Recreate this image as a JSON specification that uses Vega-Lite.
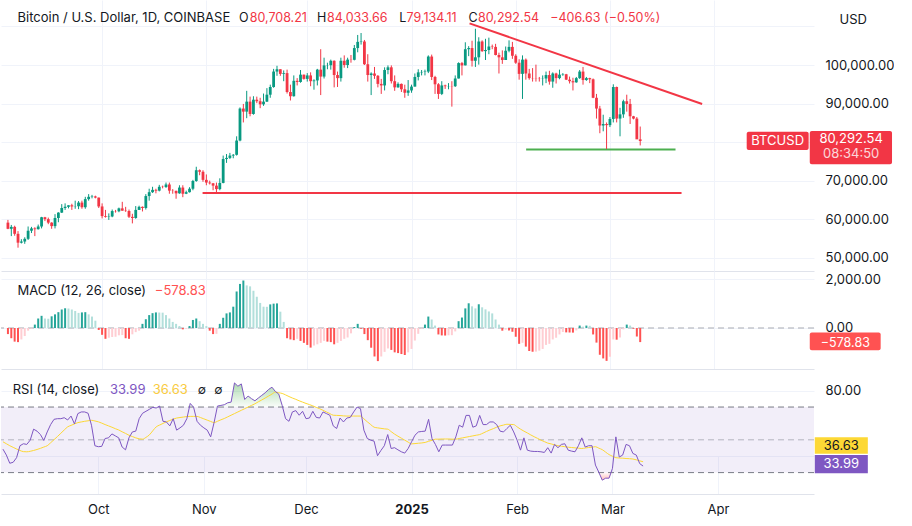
{
"$schema": "https://vega.github.io/schema/vega-lite/v6.json",
"padding": 0,
"background": "#ffffff",
"spacing": 0,
"bounds": "flush",
"config": {"font": "Inter", "view": {"stroke": null}, "axis": {"zindex": 0, "labelFont": "Inter", "titleFont": "Inter"}, "text": {"font": "Inter"}},
"datasets": {
"btc": [
{"d":"2024-09-03","o":59100,"h":59800,"l":57400,"c":57500,"m":-250,"r":44.3,"s":48.8},
{"d":"2024-09-04","o":57500,"h":58500,"l":55600,"c":58000,"m":-420,"r":40.7,"s":47.6},
{"d":"2024-09-05","o":58000,"h":58300,"l":55700,"c":56200,"m":-560,"r":35.7,"s":46.4},
{"d":"2024-09-06","o":56200,"h":56900,"l":52600,"c":53900,"m":-580,"r":36.3,"s":45.4},
{"d":"2024-09-07","o":53900,"h":54800,"l":53700,"c":54200,"m":-470,"r":39.1,"s":44.4},
{"d":"2024-09-08","o":54200,"h":55300,"l":53600,"c":54900,"m":-330,"r":46.4,"s":43.5},
{"d":"2024-09-09","o":54900,"h":58100,"l":54600,"c":57000,"m":-110,"r":47.6,"s":42.8},
{"d":"2024-09-10","o":57000,"h":58000,"l":56400,"c":57600,"m":-30,"r":47.2,"s":42.7},
{"d":"2024-09-11","o":57600,"h":57900,"l":55600,"c":57400,"m":140,"r":49.8,"s":43.0},
{"d":"2024-09-12","o":57400,"h":58600,"l":57300,"c":58100,"m":390,"r":56.5,"s":43.5},
{"d":"2024-09-13","o":58100,"h":60600,"l":57600,"c":60500,"m":500,"r":55.3,"s":44.1},
{"d":"2024-09-14","o":60500,"h":60600,"l":59500,"c":60000,"m":390,"r":53.2,"s":44.8},
{"d":"2024-09-15","o":60000,"h":60400,"l":58700,"c":59100,"m":380,"r":49.6,"s":45.6},
{"d":"2024-09-16","o":59100,"h":59200,"l":57500,"c":58200,"m":480,"r":54.8,"s":46.4},
{"d":"2024-09-17","o":58200,"h":61300,"l":57600,"c":60300,"m":560,"r":59.3,"s":48.2},
{"d":"2024-09-18","o":60300,"h":61800,"l":59200,"c":61700,"m":650,"r":62.5,"s":50.1},
{"d":"2024-09-19","o":61700,"h":63900,"l":61600,"c":62900,"m":760,"r":62.9,"s":52.0},
{"d":"2024-09-20","o":62900,"h":64100,"l":62400,"c":63200,"m":810,"r":62.9,"s":54.0},
{"d":"2024-09-21","o":63200,"h":63600,"l":62800,"c":63600,"m":800,"r":63.5,"s":56.0},
{"d":"2024-09-22","o":63600,"h":64000,"l":62400,"c":63300,"m":760,"r":62.1,"s":57.9},
{"d":"2024-09-23","o":63300,"h":64800,"l":62700,"c":63350,"m":700,"r":64.5,"s":58.8},
{"d":"2024-09-24","o":63350,"h":64700,"l":62600,"c":64300,"m":620,"r":59.7,"s":59.7},
{"d":"2024-09-25","o":64300,"h":64800,"l":62700,"c":63100,"m":640,"r":66.0,"s":60.5},
{"d":"2024-09-26","o":63100,"h":65800,"l":62700,"c":65200,"m":650,"r":67.0,"s":60.9},
{"d":"2024-09-27","o":65200,"h":66500,"l":64800,"c":65800,"m":560,"r":67.0,"s":61.3},
{"d":"2024-09-28","o":65800,"h":66300,"l":65400,"c":65900,"m":470,"r":66.2,"s":61.6},
{"d":"2024-09-29","o":65900,"h":66100,"l":65400,"c":65600,"m":300,"r":58.9,"s":61.9},
{"d":"2024-09-30","o":65600,"h":65600,"l":62900,"c":63300,"m":-80,"r":46.4,"s":61.5},
{"d":"2024-10-01","o":63300,"h":64100,"l":60200,"c":60800,"m":-280,"r":45.8,"s":61.0},
{"d":"2024-10-02","o":60800,"h":62400,"l":60400,"c":60600,"m":-445,"r":46.0,"s":60.2},
{"d":"2024-10-03","o":60600,"h":61500,"l":59800,"c":60700,"m":-400,"r":50.8,"s":59.3},
{"d":"2024-10-04","o":60700,"h":62500,"l":60500,"c":62100,"m":-370,"r":51.2,"s":58.5},
{"d":"2024-10-05","o":62100,"h":62400,"l":61700,"c":62050,"m":-360,"r":53.6,"s":57.7},
{"d":"2024-10-06","o":62050,"h":63000,"l":61800,"c":62800,"m":-300,"r":52.4,"s":56.8},
{"d":"2024-10-07","o":62800,"h":64500,"l":62200,"c":62200,"m":-290,"r":51.2,"s":56.0},
{"d":"2024-10-08","o":62200,"h":63200,"l":61900,"c":62100,"m":-420,"r":45.6,"s":54.9},
{"d":"2024-10-09","o":62100,"h":62500,"l":60300,"c":60600,"m":-445,"r":43.9,"s":53.9},
{"d":"2024-10-10","o":60600,"h":61400,"l":58900,"c":60300,"m":-260,"r":51.2,"s":52.8},
{"d":"2024-10-11","o":60300,"h":63400,"l":60100,"c":62400,"m":-170,"r":54.8,"s":52.0},
{"d":"2024-10-12","o":62400,"h":63500,"l":62400,"c":63200,"m":-110,"r":55.3,"s":51.2},
{"d":"2024-10-13","o":63200,"h":63300,"l":62000,"c":62900,"m":170,"r":62.9,"s":50.6},
{"d":"2024-10-14","o":62900,"h":66500,"l":62500,"c":66000,"m":360,"r":66.2,"s":50.4},
{"d":"2024-10-15","o":66000,"h":67900,"l":64800,"c":67000,"m":530,"r":67.4,"s":51.5},
{"d":"2024-10-16","o":67000,"h":68400,"l":66800,"c":67600,"m":610,"r":68.6,"s":53.0},
{"d":"2024-10-17","o":67600,"h":67900,"l":66700,"c":67400,"m":640,"r":69.8,"s":55.5},
{"d":"2024-10-18","o":67400,"h":68900,"l":67200,"c":68400,"m":635,"r":69.4,"s":57.9},
{"d":"2024-10-19","o":68400,"h":68700,"l":68000,"c":68350,"m":630,"r":70.6,"s":59.0},
{"d":"2024-10-20","o":68350,"h":69500,"l":68100,"c":69000,"m":530,"r":61.3,"s":60.0},
{"d":"2024-10-21","o":69000,"h":69500,"l":66600,"c":67400,"m":390,"r":60.9,"s":61.0},
{"d":"2024-10-22","o":67400,"h":67800,"l":66600,"c":67350,"m":250,"r":58.5,"s":61.8},
{"d":"2024-10-23","o":67350,"h":67400,"l":65300,"c":66700,"m":170,"r":62.9,"s":62.6},
{"d":"2024-10-24","o":66700,"h":68800,"l":66600,"c":68200,"m":80,"r":55.9,"s":63.3},
{"d":"2024-10-25","o":68200,"h":68800,"l":65700,"c":66600,"m":-55,"r":57.3,"s":63.6},
{"d":"2024-10-26","o":66600,"h":67400,"l":66500,"c":67000,"m":-30,"r":58.9,"s":63.9},
{"d":"2024-10-27","o":67000,"h":68300,"l":66900,"c":67900,"m":80,"r":62.9,"s":64.2},
{"d":"2024-10-28","o":67900,"h":70200,"l":67500,"c":69900,"m":330,"r":72.2,"s":64.3},
{"d":"2024-10-29","o":69900,"h":73600,"l":69700,"c":72700,"m":390,"r":69.8,"s":64.3},
{"d":"2024-10-30","o":72700,"h":72900,"l":71400,"c":72300,"m":280,"r":61.3,"s":64.3},
{"d":"2024-10-31","o":72300,"h":72700,"l":69700,"c":70200,"m":170,"r":58.9,"s":63.6},
{"d":"2024-11-01","o":70200,"h":71600,"l":68800,"c":69500,"m":80,"r":57.3,"s":62.8},
{"d":"2024-11-02","o":69500,"h":70000,"l":69000,"c":69300,"m":-110,"r":55.9,"s":62.0},
{"d":"2024-11-03","o":69300,"h":69400,"l":67500,"c":68700,"m":-250,"r":51.8,"s":61.2},
{"d":"2024-11-04","o":68700,"h":69500,"l":66800,"c":67800,"m":-240,"r":60.5,"s":60.5},
{"d":"2024-11-05","o":67800,"h":70600,"l":67500,"c":69400,"m":170,"r":70.6,"s":61.3},
{"d":"2024-11-06","o":69400,"h":76500,"l":69300,"c":75600,"m":420,"r":71.0,"s":62.2},
{"d":"2024-11-07","o":75600,"h":76900,"l":74600,"c":75900,"m":600,"r":71.4,"s":63.0},
{"d":"2024-11-08","o":75900,"h":77200,"l":75600,"c":76500,"m":640,"r":72.6,"s":64.0},
{"d":"2024-11-09","o":76500,"h":76900,"l":75800,"c":76700,"m":875,"r":73.0,"s":65.0},
{"d":"2024-11-10","o":76700,"h":81500,"l":76500,"c":80400,"m":1500,"r":84.7,"s":66.0},
{"d":"2024-11-11","o":80400,"h":89000,"l":80200,"c":88700,"m":1810,"r":82.7,"s":67.0},
{"d":"2024-11-12","o":88700,"h":89900,"l":85100,"c":87900,"m":1950,"r":84.1,"s":68.0},
{"d":"2024-11-13","o":87900,"h":93300,"l":86200,"c":90500,"m":1750,"r":74.6,"s":69.0},
{"d":"2024-11-14","o":90500,"h":91800,"l":86700,"c":87300,"m":1710,"r":76.7,"s":70.0},
{"d":"2024-11-15","o":87300,"h":91900,"l":87100,"c":91000,"m":1530,"r":75.1,"s":71.0},
{"d":"2024-11-16","o":91000,"h":91800,"l":90100,"c":90600,"m":1280,"r":73.8,"s":72.0},
{"d":"2024-11-17","o":90600,"h":91500,"l":88800,"c":89800,"m":1030,"r":75.5,"s":73.2},
{"d":"2024-11-18","o":89800,"h":92600,"l":89400,"c":90500,"m":875,"r":77.1,"s":74.3},
{"d":"2024-11-19","o":90500,"h":94000,"l":90400,"c":92300,"m":870,"r":78.7,"s":75.5},
{"d":"2024-11-20","o":92300,"h":94900,"l":91500,"c":94300,"m":970,"r":80.7,"s":76.7},
{"d":"2024-11-21","o":94300,"h":99000,"l":94100,"c":98300,"m":1000,"r":82.1,"s":77.9},
{"d":"2024-11-22","o":98300,"h":99800,"l":97200,"c":98900,"m":1010,"r":79.5,"s":79.1},
{"d":"2024-11-23","o":98900,"h":98900,"l":97200,"c":97700,"m":670,"r":77.9,"s":78.7},
{"d":"2024-11-24","o":97700,"h":98600,"l":95800,"c":97900,"m":250,"r":71.0,"s":78.3},
{"d":"2024-11-25","o":97900,"h":98800,"l":92600,"c":93000,"m":-420,"r":62.9,"s":77.4},
{"d":"2024-11-26","o":93000,"h":94900,"l":90800,"c":91900,"m":-470,"r":61.3,"s":76.4},
{"d":"2024-11-27","o":91900,"h":97300,"l":91800,"c":95900,"m":-500,"r":67.0,"s":75.5},
{"d":"2024-11-28","o":95900,"h":96600,"l":94700,"c":95600,"m":-445,"r":67.8,"s":74.7},
{"d":"2024-11-29","o":95600,"h":98700,"l":95400,"c":97500,"m":-530,"r":65.0,"s":73.8},
{"d":"2024-11-30","o":97500,"h":97500,"l":96200,"c":96400,"m":-610,"r":67.4,"s":73.0},
{"d":"2024-12-01","o":96400,"h":97900,"l":95700,"c":97300,"m":-695,"r":62.9,"s":72.2},
{"d":"2024-12-02","o":97300,"h":98100,"l":94500,"c":95800,"m":-805,"r":63.3,"s":71.5},
{"d":"2024-12-03","o":95800,"h":96300,"l":93600,"c":96000,"m":-720,"r":67.4,"s":70.7},
{"d":"2024-12-04","o":96000,"h":99000,"l":94700,"c":98800,"m":-670,"r":63.7,"s":69.8},
{"d":"2024-12-05","o":98800,"h":104100,"l":92200,"c":97000,"m":-610,"r":63.3,"s":69.0},
{"d":"2024-12-06","o":97000,"h":101900,"l":96500,"c":99900,"m":-530,"r":67.0,"s":68.0},
{"d":"2024-12-07","o":99900,"h":100600,"l":98900,"c":99950,"m":-560,"r":66.0,"s":67.0},
{"d":"2024-12-08","o":99950,"h":101400,"l":98800,"c":101100,"m":-580,"r":65.0,"s":66.0},
{"d":"2024-12-09","o":101100,"h":101200,"l":94200,"c":97400,"m":-670,"r":58.5,"s":65.0},
{"d":"2024-12-10","o":97400,"h":98300,"l":94300,"c":96600,"m":-610,"r":56.9,"s":64.9},
{"d":"2024-12-11","o":96600,"h":101900,"l":95700,"c":101100,"m":-530,"r":63.3,"s":64.8},
{"d":"2024-12-12","o":101100,"h":102500,"l":99300,"c":100000,"m":-445,"r":60.9,"s":64.6},
{"d":"2024-12-13","o":100000,"h":101900,"l":99200,"c":101400,"m":-390,"r":63.3,"s":64.5},
{"d":"2024-12-14","o":101400,"h":102600,"l":100600,"c":101350,"m":-220,"r":63.7,"s":64.5},
{"d":"2024-12-15","o":101350,"h":105200,"l":101200,"c":104400,"m":40,"r":67.0,"s":64.5},
{"d":"2024-12-16","o":104400,"h":107800,"l":103300,"c":106000,"m":170,"r":70.0,"s":64.5},
{"d":"2024-12-17","o":106000,"h":108300,"l":105300,"c":106100,"m":-30,"r":69.0,"s":64.5},
{"d":"2024-12-18","o":106100,"h":106500,"l":100000,"c":100200,"m":-250,"r":55.9,"s":62.8},
{"d":"2024-12-19","o":100200,"h":102800,"l":95700,"c":97400,"m":-500,"r":50.8,"s":61.0},
{"d":"2024-12-20","o":97400,"h":98100,"l":92200,"c":97800,"m":-810,"r":49.8,"s":59.3},
{"d":"2024-12-21","o":97800,"h":99500,"l":96400,"c":97200,"m":-1170,"r":49.2,"s":57.7},
{"d":"2024-12-22","o":97200,"h":97400,"l":94200,"c":95100,"m":-1360,"r":40.3,"s":57.3},
{"d":"2024-12-23","o":95100,"h":96400,"l":92500,"c":94700,"m":-1170,"r":43.5,"s":57.0},
{"d":"2024-12-24","o":94700,"h":99400,"l":93400,"c":98700,"m":-980,"r":46.4,"s":56.7},
{"d":"2024-12-25","o":98700,"h":99900,"l":97600,"c":99400,"m":-840,"r":53.2,"s":56.5},
{"d":"2024-12-26","o":99400,"h":99900,"l":95200,"c":95800,"m":-900,"r":44.7,"s":55.0},
{"d":"2024-12-27","o":95800,"h":97300,"l":93300,"c":94200,"m":-1000,"r":45.2,"s":53.5},
{"d":"2024-12-28","o":94200,"h":95500,"l":94100,"c":95100,"m":-1030,"r":43.9,"s":52.2},
{"d":"2024-12-29","o":95100,"h":95200,"l":93000,"c":93700,"m":-1070,"r":42.7,"s":51.0},
{"d":"2024-12-30","o":93700,"h":94900,"l":91500,"c":92800,"m":-1110,"r":41.9,"s":49.8},
{"d":"2024-12-31","o":92800,"h":96100,"l":92000,"c":93400,"m":-1000,"r":44.7,"s":48.6},
{"d":"2025-01-01","o":93400,"h":94900,"l":92800,"c":94400,"m":-860,"r":48.8,"s":47.5},
{"d":"2025-01-02","o":94400,"h":97800,"l":94400,"c":96900,"m":-515,"r":52.8,"s":47.7},
{"d":"2025-01-03","o":96900,"h":98900,"l":96000,"c":98100,"m":-240,"r":54.8,"s":47.9},
{"d":"2025-01-04","o":98100,"h":98700,"l":97300,"c":98200,"m":-30,"r":55.1,"s":48.1},
{"d":"2025-01-05","o":98200,"h":98800,"l":97300,"c":98300,"m":140,"r":55.3,"s":48.4},
{"d":"2025-01-06","o":98300,"h":102500,"l":97900,"c":102200,"m":470,"r":62.5,"s":49.1},
{"d":"2025-01-07","o":102200,"h":102700,"l":96100,"c":96900,"m":350,"r":50.8,"s":49.7},
{"d":"2025-01-08","o":96900,"h":97200,"l":92500,"c":95000,"m":100,"r":47.2,"s":50.4},
{"d":"2025-01-09","o":95000,"h":95300,"l":91200,"c":92500,"m":-265,"r":42.7,"s":50.4},
{"d":"2025-01-10","o":92500,"h":95800,"l":92200,"c":94700,"m":-305,"r":46.8,"s":50.5},
{"d":"2025-01-11","o":94700,"h":94900,"l":93800,"c":94500,"m":-310,"r":46.8,"s":50.5},
{"d":"2025-01-12","o":94500,"h":95300,"l":93700,"c":94550,"m":-300,"r":46.8,"s":50.5},
{"d":"2025-01-13","o":94550,"h":95800,"l":89200,"c":94500,"m":-295,"r":46.8,"s":50.4},
{"d":"2025-01-14","o":94500,"h":97300,"l":94300,"c":96500,"m":-140,"r":51.8,"s":50.4},
{"d":"2025-01-15","o":96500,"h":100700,"l":96500,"c":100500,"m":280,"r":58.9,"s":50.8},
{"d":"2025-01-16","o":100500,"h":100800,"l":97300,"c":99900,"m":430,"r":57.7,"s":51.2},
{"d":"2025-01-17","o":99900,"h":105900,"l":99900,"c":104100,"m":805,"r":64.9,"s":51.6},
{"d":"2025-01-18","o":104100,"h":104900,"l":102300,"c":104400,"m":1015,"r":64.9,"s":52.0},
{"d":"2025-01-19","o":104400,"h":106300,"l":99600,"c":101100,"m":890,"r":57.7,"s":52.4},
{"d":"2025-01-20","o":101100,"h":109400,"l":99500,"c":102000,"m":805,"r":58.5,"s":52.8},
{"d":"2025-01-21","o":102000,"h":107200,"l":100100,"c":106100,"m":975,"r":64.9,"s":53.2},
{"d":"2025-01-22","o":106100,"h":106400,"l":103400,"c":103600,"m":850,"r":59.3,"s":54.1},
{"d":"2025-01-23","o":103600,"h":106800,"l":101300,"c":103900,"m":765,"r":59.3,"s":55.1},
{"d":"2025-01-24","o":103900,"h":107100,"l":102800,"c":104800,"m":680,"r":60.9,"s":56.0},
{"d":"2025-01-25","o":104800,"h":105300,"l":104100,"c":104700,"m":600,"r":60.9,"s":56.8},
{"d":"2025-01-26","o":104700,"h":105500,"l":102500,"c":102600,"m":350,"r":59.3,"s":57.7},
{"d":"2025-01-27","o":102600,"h":103200,"l":97800,"c":102000,"m":140,"r":55.3,"s":58.5},
{"d":"2025-01-28","o":102000,"h":103800,"l":100300,"c":101300,"m":-110,"r":54.8,"s":59.0},
{"d":"2025-01-29","o":101300,"h":104800,"l":101300,"c":103700,"m":-70,"r":56.9,"s":59.5},
{"d":"2025-01-30","o":103700,"h":106400,"l":103300,"c":104700,"m":-100,"r":58.9,"s":59.4},
{"d":"2025-01-31","o":104700,"h":106000,"l":101600,"c":102400,"m":-150,"r":54.8,"s":59.3},
{"d":"2025-02-01","o":102400,"h":102800,"l":100300,"c":100600,"m":-360,"r":49.8,"s":57.9},
{"d":"2025-02-02","o":100600,"h":101500,"l":96200,"c":97700,"m":-650,"r":43.7,"s":56.5},
{"d":"2025-02-03","o":97700,"h":102500,"l":91200,"c":101400,"m":-610,"r":51.2,"s":55.3},
{"d":"2025-02-04","o":101400,"h":101700,"l":96200,"c":97800,"m":-765,"r":43.7,"s":54.2},
{"d":"2025-02-05","o":97800,"h":99000,"l":96200,"c":96600,"m":-945,"r":43.1,"s":53.0},
{"d":"2025-02-06","o":96600,"h":99200,"l":95700,"c":96550,"m":-975,"r":42.9,"s":51.9},
{"d":"2025-02-07","o":96550,"h":100100,"l":95700,"c":96500,"m":-970,"r":42.9,"s":50.9},
{"d":"2025-02-08","o":96500,"h":96900,"l":95700,"c":96450,"m":-930,"r":42.7,"s":49.8},
{"d":"2025-02-09","o":96450,"h":97300,"l":94700,"c":96500,"m":-860,"r":42.3,"s":48.9},
{"d":"2025-02-10","o":96500,"h":98300,"l":95300,"c":97400,"m":-695,"r":45.2,"s":48.0},
{"d":"2025-02-11","o":97400,"h":98500,"l":94900,"c":95700,"m":-650,"r":41.9,"s":47.5},
{"d":"2025-02-12","o":95700,"h":98100,"l":94100,"c":97800,"m":-470,"r":47.2,"s":46.9},
{"d":"2025-02-13","o":97800,"h":98000,"l":95200,"c":96600,"m":-400,"r":45.2,"s":46.4},
{"d":"2025-02-14","o":96600,"h":98800,"l":96300,"c":97500,"m":-265,"r":47.2,"s":46.1},
{"d":"2025-02-15","o":97500,"h":97900,"l":97200,"c":97600,"m":-165,"r":47.6,"s":45.8},
{"d":"2025-02-16","o":97600,"h":97700,"l":96100,"c":96200,"m":-180,"r":43.7,"s":45.5},
{"d":"2025-02-17","o":96200,"h":97000,"l":95200,"c":95800,"m":-185,"r":43.1,"s":45.3},
{"d":"2025-02-18","o":95800,"h":96700,"l":93400,"c":95500,"m":-190,"r":42.7,"s":45.1},
{"d":"2025-02-19","o":95500,"h":96900,"l":95400,"c":96600,"m":-100,"r":46.4,"s":44.9},
{"d":"2025-02-20","o":96600,"h":98700,"l":96400,"c":98300,"m":100,"r":51.2,"s":44.7},
{"d":"2025-02-21","o":98300,"h":99500,"l":94900,"c":96100,"m":55,"r":45.6,"s":45.0},
{"d":"2025-02-22","o":96100,"h":96900,"l":95900,"c":96600,"m":100,"r":46.4,"s":45.3},
{"d":"2025-02-23","o":96600,"h":96700,"l":95300,"c":96300,"m":90,"r":46.4,"s":45.5},
{"d":"2025-02-24","o":96300,"h":96500,"l":91400,"c":91500,"m":-265,"r":34.6,"s":45.8},
{"d":"2025-02-25","o":91500,"h":92500,"l":86100,"c":88700,"m":-600,"r":30.2,"s":44.9},
{"d":"2025-02-26","o":88700,"h":89400,"l":82300,"c":84300,"m":-1100,"r":25.4,"s":44.0},
{"d":"2025-02-27","o":84300,"h":87100,"l":82800,"c":84700,"m":-1250,"r":26.6,"s":42.5},
{"d":"2025-02-28","o":84700,"h":85100,"l":78200,"c":84400,"m":-1350,"r":26.6,"s":41.0},
{"d":"2025-03-01","o":84400,"h":86500,"l":83900,"c":86000,"m":-1180,"r":32.6,"s":40.0},
{"d":"2025-03-02","o":86000,"h":95000,"l":85100,"c":94300,"m":-470,"r":51.8,"s":39.1},
{"d":"2025-03-03","o":94300,"h":94400,"l":85100,"c":86100,"m":-480,"r":39.5,"s":38.9},
{"d":"2025-03-04","o":86100,"h":88900,"l":81500,"c":87200,"m":-390,"r":40.7,"s":38.8},
{"d":"2025-03-05","o":87200,"h":91000,"l":86300,"c":90600,"m":-55,"r":47.2,"s":38.6},
{"d":"2025-03-06","o":90600,"h":92300,"l":87900,"c":89900,"m":140,"r":46.4,"s":38.5},
{"d":"2025-03-07","o":89900,"h":91200,"l":84700,"c":86700,"m":100,"r":41.7,"s":38.3},
{"d":"2025-03-08","o":86700,"h":86800,"l":85900,"c":86100,"m":-30,"r":40.7,"s":37.8},
{"d":"2025-03-09","o":86100,"h":86500,"l":80900,"c":80708.21,"m":-350,"r":35.5,"s":37.2},
{"d":"2025-03-10","o":80708.21,"h":84033.66,"l":79134.11,"c":80292.54,"m":-578.83,"r":33.99,"s":36.63}
],
"lines": [
{"k":"res","t1":"2025-01-18T06:00:00Z","p1":110800,"t2":"2025-03-28T10:00:00Z","p2":89880},
{"k":"sup","t1":"2025-02-04T02:00:00Z","p1":78100,"t2":"2025-03-20T12:00:00Z","p2":78100},
{"k":"base","t1":"2024-10-30T21:00:00Z","p1":66800,"t2":"2025-03-22T07:00:00Z","p2":66800}
]
},
"vconcat": [
{
"width": 813, "height": 271,
"layer": [
{"data": {"name": "btc"}, "transform": [{"filter": "datum.d == '2025-03-10'"}],
 "mark": {"type": "rule", "stroke": "#F23645", "strokeWidth": 1, "strokeDash": [1, 2]},
 "encoding": {"y": {"field": "c", "type": "quantitative", "scale": {"domain": [46550, 116870], "nice": false, "zero": false}}}},
{"data": {"name": "lines"},
 "mark": {"type": "rule", "strokeWidth": 2},
 "encoding": {
  "x": {"field": "t1", "type": "temporal"}, "x2": {"field": "t2"},
  "y": {"field": "p1", "type": "quantitative"}, "y2": {"field": "p2"},
  "color": {"field": "k", "type": "nominal", "scale": {"domain": ["res", "sup", "base"], "range": ["#F23645", "#4CAF50", "#F23645"]}, "legend": null}}},
{"data": {"name": "btc"},
 "mark": {"type": "rule", "strokeWidth": 1},
 "encoding": {
  "x": {"field": "d", "type": "temporal",
   "scale": {"type": "utc", "nice": false, "domain": [{"year": 2024, "month": 9, "date": 2, "hours": 10, "minutes": 12, "utc": true}, {"year": 2025, "month": 4, "date": 29, "hours": 4, "minutes": 34, "utc": true}]},
   "axis": {"values": [{"year": 2024, "month": 10, "date": 1, "utc": true}, {"year": 2024, "month": 11, "date": 1, "utc": true}, {"year": 2024, "month": 12, "date": 1, "utc": true}, {"year": 2025, "month": 1, "date": 1, "utc": true}, {"year": 2025, "month": 2, "date": 1, "utc": true}, {"year": 2025, "month": 3, "date": 1, "utc": true}, {"year": 2025, "month": 4, "date": 1, "utc": true}],
    "labels": false, "ticks": false, "domain": true, "domainColor": "#E0E3EB", "grid": true, "gridColor": "#F0F3FA", "title": null}},
  "y": {"field": "l", "type": "quantitative",
   "scale": {"domain": [46550, 116870], "nice": false, "zero": false},
   "axis": {"orient": "right", "values": [50000, 60000, 70000, 80000, 90000, 100000, 110000],
    "labelExpr": "datum.value > 105000 || datum.value == 80000 ? '' : format(datum.value, ',.2f')",
    "labelAlign": "left", "labelPadding": 11, "tickSize": 0, "ticks": false, "domain": false,
    "grid": true, "gridColor": "#F0F3FA", "labelFontSize": 13, "labelColor": "#131722",
    "title": "USD", "titleAngle": 0, "titleAlign": "left", "titleBaseline": "middle", "titleX": 25, "titleY": 19,
    "titleFontSize": 13, "titleFontWeight": "normal", "titleColor": "#131722"}},
  "y2": {"field": "h"},
  "color": {"condition": {"test": "datum.c >= datum.o", "value": "#089981"}, "value": "#F23645"}}},
{"data": {"name": "btc"},
 "mark": {"type": "bar", "width": 2.8},
 "encoding": {
  "x": {"field": "d", "type": "temporal"},
  "y": {"field": "o", "type": "quantitative"},
  "y2": {"field": "c"},
  "color": {"condition": {"test": "datum.c >= datum.o", "value": "#089981"}, "value": "#F23645"}}},
{"data": {"values": [{}]}, "mark": {"type": "rect", "color": "#F23645", "cornerRadius": 2},
 "encoding": {"x": {"datum": {"year": 2025, "month": 4, "date": 10, "hours": 16, "utc": true}, "type": "temporal"},
  "x2": {"datum": {"year": 2025, "month": 4, "date": 29, "hours": 2, "utc": true}},
  "y": {"datum": 82690, "type": "quantitative"}, "y2": {"datum": 77945}}},
{"data": {"values": [{}]}, "mark": {"type": "text", "color": "#ffffff", "fontSize": 13, "align": "center", "baseline": "middle"},
 "encoding": {"x": {"datum": {"year": 2025, "month": 4, "date": 19, "hours": 21, "utc": true}, "type": "temporal"},
  "y": {"datum": 80300, "type": "quantitative"}, "text": {"value": "BTCUSD"}}},
{"data": {"values": [{}]}, "mark": {"type": "rect", "color": "#F23645", "cornerRadius": 2},
 "encoding": {"x": {"datum": {"year": 2025, "month": 4, "date": 29, "hours": 10, "utc": true}, "type": "temporal"},
  "x2": {"datum": {"year": 2025, "month": 5, "date": 23, "hours": 21, "utc": true}},
  "y": {"datum": 82875, "type": "quantitative"}, "y2": {"datum": 74235}}},
{"data": {"values": [{}]}, "mark": {"type": "text", "color": "#ffffff", "fontSize": 13, "align": "center", "baseline": "middle"},
 "encoding": {"x": {"datum": {"year": 2025, "month": 5, "date": 11, "hours": 17, "utc": true}, "type": "temporal"},
  "y": {"datum": 80720, "type": "quantitative"}, "text": {"value": "80,292.54"}}},
{"data": {"values": [{}]}, "mark": {"type": "text", "color": "#ffffff", "opacity": 0.8, "fontSize": 13, "align": "center", "baseline": "middle"},
 "encoding": {"x": {"datum": {"year": 2025, "month": 5, "date": 11, "hours": 17, "utc": true}, "type": "temporal"},
  "y": {"datum": 76830, "type": "quantitative"}, "text": {"value": "08:34:50"}}},
{"data": {"values": [{}]}, "mark": {"type": "text", "color": "#131722", "fontSize": 13, "align": "left", "baseline": "middle"},
 "encoding": {"x": {"datum": {"year": 2024, "month": 9, "date": 5, "hours": 20, "minutes": 40, "utc": true}, "type": "temporal"},
  "y": {"datum": 112100, "type": "quantitative"}, "text": {"value": "Bitcoin / U.S. Dollar, 1D, COINBASE"}}},
{"data": {"values": [{}]}, "mark": {"type": "text", "color": "#131722", "fontSize": 12.5, "align": "left", "baseline": "middle"},
 "encoding": {"x": {"datum": {"year": 2024, "month": 11, "date": 10, "hours": 17, "utc": true}, "type": "temporal"},
  "y": {"datum": 112100, "type": "quantitative"}, "text": {"value": "O"}}},
{"data": {"values": [{}]}, "mark": {"type": "text", "color": "#F23645", "fontSize": 12.5, "align": "left", "baseline": "middle"},
 "encoding": {"x": {"datum": {"year": 2024, "month": 11, "date": 13, "hours": 21, "utc": true}, "type": "temporal"},
  "y": {"datum": 112100, "type": "quantitative"}, "text": {"value": "80,708.21"}}},
{"data": {"values": [{}]}, "mark": {"type": "text", "color": "#131722", "fontSize": 12.5, "align": "left", "baseline": "middle"},
 "encoding": {"x": {"datum": {"year": 2024, "month": 12, "date": 3, "hours": 22, "utc": true}, "type": "temporal"},
  "y": {"datum": 112100, "type": "quantitative"}, "text": {"value": "H"}}},
{"data": {"values": [{}]}, "mark": {"type": "text", "color": "#F23645", "fontSize": 12.5, "align": "left", "baseline": "middle"},
 "encoding": {"x": {"datum": {"year": 2024, "month": 12, "date": 6, "hours": 21, "utc": true}, "type": "temporal"},
  "y": {"datum": 112100, "type": "quantitative"}, "text": {"value": "84,033.66"}}},
{"data": {"values": [{}]}, "mark": {"type": "text", "color": "#131722", "fontSize": 12.5, "align": "left", "baseline": "middle"},
 "encoding": {"x": {"datum": {"year": 2024, "month": 12, "date": 28, "hours": 9, "utc": true}, "type": "temporal"},
  "y": {"datum": 112100, "type": "quantitative"}, "text": {"value": "L"}}},
{"data": {"values": [{}]}, "mark": {"type": "text", "color": "#F23645", "fontSize": 12.5, "align": "left", "baseline": "middle"},
 "encoding": {"x": {"datum": {"year": 2024, "month": 12, "date": 30, "hours": 13, "utc": true}, "type": "temporal"},
  "y": {"datum": 112100, "type": "quantitative"}, "text": {"value": "79,134.11"}}},
{"data": {"values": [{}]}, "mark": {"type": "text", "color": "#131722", "fontSize": 12.5, "align": "left", "baseline": "middle"},
 "encoding": {"x": {"datum": {"year": 2025, "month": 1, "date": 17, "hours": 23, "utc": true}, "type": "temporal"},
  "y": {"datum": 112100, "type": "quantitative"}, "text": {"value": "C"}}},
{"data": {"values": [{}]}, "mark": {"type": "text", "color": "#F23645", "fontSize": 12.5, "align": "left", "baseline": "middle"},
 "encoding": {"x": {"datum": {"year": 2025, "month": 1, "date": 20, "hours": 19, "utc": true}, "type": "temporal"},
  "y": {"datum": 112100, "type": "quantitative"}, "text": {"value": "80,292.54"}}},
{"data": {"values": [{}]}, "mark": {"type": "text", "color": "#F23645", "fontSize": 12.5, "align": "left", "baseline": "middle"},
 "encoding": {"x": {"datum": {"year": 2025, "month": 2, "date": 11, "hours": 6, "utc": true}, "type": "temporal"},
  "y": {"datum": 112100, "type": "quantitative"}, "text": {"value": "−406.63 (−0.50%)"}}}
]
},
{
"width": 813, "height": 98,
"layer": [
{"data": {"values": [{}]}, "mark": {"type": "rule", "stroke": "#9598A1", "strokeWidth": 1, "strokeDash": [6, 4], "opacity": 0.8},
 "encoding": {"y": {"datum": 0, "type": "quantitative", "scale": {"domain": [-1684, 2341], "nice": false, "zero": false}}}},
{"data": {"name": "btc"},
 "transform": [{"window": [{"op": "lag", "field": "m", "as": "pm"}], "sort": [{"field": "d", "order": "ascending"}]}],
 "mark": {"type": "bar", "width": 2},
 "encoding": {
  "x": {"field": "d", "type": "temporal",
   "scale": {"type": "utc", "nice": false, "domain": [{"year": 2024, "month": 9, "date": 2, "hours": 10, "minutes": 12, "utc": true}, {"year": 2025, "month": 4, "date": 29, "hours": 4, "minutes": 34, "utc": true}]},
   "axis": {"values": [{"year": 2024, "month": 10, "date": 1, "utc": true}, {"year": 2024, "month": 11, "date": 1, "utc": true}, {"year": 2024, "month": 12, "date": 1, "utc": true}, {"year": 2025, "month": 1, "date": 1, "utc": true}, {"year": 2025, "month": 2, "date": 1, "utc": true}, {"year": 2025, "month": 3, "date": 1, "utc": true}, {"year": 2025, "month": 4, "date": 1, "utc": true}],
    "labels": false, "ticks": false, "domain": true, "domainColor": "#E0E3EB", "grid": true, "gridColor": "#F0F3FA", "title": null}},
  "y": {"field": "m", "type": "quantitative", "scale": {"domain": [-1684, 2341], "nice": false, "zero": false},
   "axis": {"orient": "right", "values": [0, 2000], "format": ",.2f", "labelAlign": "left", "labelPadding": 11, "tickSize": 0, "ticks": false, "domain": false,
    "grid": true, "gridColor": "#F0F3FA", "labelFontSize": 13, "labelColor": "#131722", "title": null}},
  "color": {"condition": [
    {"test": "datum.m >= 0 && (datum.pm == null || datum.m >= datum.pm)", "value": "#26A69A"},
    {"test": "datum.m >= 0", "value": "#B2DFDB"},
    {"test": "datum.pm == null || datum.m < datum.pm", "value": "#FF5252"}
   ], "value": "#FFCDD2"}}},
{"data": {"values": [{}]}, "mark": {"type": "text", "color": "#131722", "fontSize": 13, "align": "left", "baseline": "middle"},
 "encoding": {"x": {"datum": {"year": 2024, "month": 9, "date": 5, "hours": 20, "minutes": 40, "utc": true}, "type": "temporal"},
  "y": {"datum": 1532, "type": "quantitative"}, "text": {"value": "MACD (12, 26, close)"}}},
{"data": {"values": [{}]}, "mark": {"type": "text", "color": "#FF5252", "fontSize": 13, "align": "left", "baseline": "middle"},
 "encoding": {"x": {"datum": {"year": 2024, "month": 10, "date": 16, "hours": 16, "utc": true}, "type": "temporal"},
  "y": {"datum": 1532, "type": "quantitative"}, "text": {"value": "−578.83"}}},
{"data": {"values": [{}]}, "mark": {"type": "rect", "color": "#FF5252", "cornerRadius": 2},
 "encoding": {"x": {"datum": {"year": 2025, "month": 4, "date": 29, "hours": 10, "utc": true}, "type": "temporal"},
  "x2": {"datum": {"year": 2025, "month": 5, "date": 20, "hours": 12, "utc": true}},
  "y": {"datum": -190, "type": "quantitative"}, "y2": {"datum": -910}}},
{"data": {"values": [{}]}, "mark": {"type": "text", "color": "#ffffff", "fontSize": 12.5, "align": "center", "baseline": "middle"},
 "encoding": {"x": {"datum": {"year": 2025, "month": 5, "date": 10, "hours": 0, "utc": true}, "type": "temporal"},
  "y": {"datum": -600, "type": "quantitative"}, "text": {"value": "−578.83"}}}
]
},
{
"width": 813, "height": 125,
"resolve": {"scale": {"y": "independent"}, "axis": {"y": "independent"}},
"layer": [
{"layer": [
 {"data": {"values": [{}]}, "mark": {"type": "rect", "color": "#7E57C2", "opacity": 0.1},
  "encoding": {"y": {"datum": 70, "type": "quantitative", "scale": {"domain": [16.95, 93.2], "nice": false, "zero": false},
    "axis": {"orient": "right", "values": [40, 80], "labelExpr": "datum.value < 50 ? '' : format(datum.value, '.2f')", "labelAlign": "left", "labelPadding": 11, "tickSize": 0, "ticks": false, "domain": false,
     "grid": true, "gridColor": "#F0F3FA", "labelFontSize": 13, "labelColor": "#131722", "title": null}},
   "y2": {"datum": 30}}},
 {"data": {"values": [{"v": 70}, {"v": 30}]}, "mark": {"type": "rule", "stroke": "#787B86", "strokeWidth": 1, "strokeDash": [6, 4]},
  "encoding": {"y": {"field": "v", "type": "quantitative"}}},
 {"data": {"values": [{"v": 50}]}, "mark": {"type": "rule", "stroke": "#787B86", "strokeWidth": 1, "strokeDash": [6, 4], "opacity": 0.5},
  "encoding": {"y": {"field": "v", "type": "quantitative"}}}
]},
{"data": {"name": "btc"},
 "mark": {"type": "area", "color": {"gradient": "linear", "x1": 0, "y1": 0, "x2": 0, "y2": 1, "stops": [{"offset": 0, "color": "rgba(76,175,80,0.45)"}, {"offset": 1, "color": "rgba(76,175,80,0.03)"}]}},
 "encoding": {"x": {"field": "d", "type": "temporal"},
  "y": {"field": "r", "type": "quantitative", "scale": {"domain": [70, 93.2], "range": [38.0, 0], "clamp": true, "nice": false, "zero": false}, "axis": null},
  "y2": {"datum": 70}}},
{"data": {"name": "btc"},
 "mark": {"type": "area", "color": {"gradient": "linear", "x1": 0, "y1": 0, "x2": 0, "y2": 1, "stops": [{"offset": 0, "color": "rgba(255,82,82,0.03)"}, {"offset": 1, "color": "rgba(255,82,82,0.4)"}]}},
 "encoding": {"x": {"field": "d", "type": "temporal"},
  "y": {"field": "r", "type": "quantitative", "scale": {"domain": [16.95, 30], "range": [125, 103.6], "clamp": true, "nice": false, "zero": false}, "axis": null},
  "y2": {"datum": 30}}},
{"layer": [
 {"data": {"name": "btc"}, "mark": {"type": "line", "color": "#FDD835", "strokeWidth": 1, "interpolate": "monotone"},
  "encoding": {
   "x": {"field": "d", "type": "temporal",
    "scale": {"type": "utc", "nice": false, "domain": [{"year": 2024, "month": 9, "date": 2, "hours": 10, "minutes": 12, "utc": true}, {"year": 2025, "month": 4, "date": 29, "hours": 4, "minutes": 34, "utc": true}]},
    "axis": {"values": [{"year": 2024, "month": 10, "date": 1, "utc": true}, {"year": 2024, "month": 11, "date": 1, "utc": true}, {"year": 2024, "month": 12, "date": 1, "utc": true}, {"year": 2025, "month": 1, "date": 1, "utc": true}, {"year": 2025, "month": 2, "date": 1, "utc": true}, {"year": 2025, "month": 3, "date": 1, "utc": true}, {"year": 2025, "month": 4, "date": 1, "utc": true}],
     "labelExpr": "utcFormat(datum.value, utcmonth(datum.value) == 0 ? '%Y' : '%b')",
     "labelFontWeight": {"condition": {"test": "utcmonth(datum.value) == 0", "value": "bold"}, "value": "normal"},
     "labelFontSize": 13, "labelColor": "#131722", "labelPadding": 9, "ticks": false, "tickSize": 0, "domain": true, "domainColor": "#E0E3EB", "grid": true, "gridColor": "#F0F3FA", "title": null}},
   "y": {"field": "s", "type": "quantitative", "scale": {"domain": [16.95, 93.2], "nice": false, "zero": false}, "axis": null}}},
 {"data": {"name": "btc"}, "mark": {"type": "line", "color": "#7E57C2", "strokeWidth": 1},
  "encoding": {"x": {"field": "d", "type": "temporal"}, "y": {"field": "r", "type": "quantitative"}}},
 {"data": {"values": [{}]}, "mark": {"type": "text", "color": "#131722", "fontSize": 13, "align": "left", "baseline": "middle"},
  "encoding": {"x": {"datum": {"year": 2024, "month": 9, "date": 5, "hours": 20, "minutes": 40, "utc": true}, "type": "temporal"},
   "y": {"datum": 80.4, "type": "quantitative"}, "text": {"value": "RSI (14, close)"}}},
 {"data": {"values": [{}]}, "mark": {"type": "text", "color": "#7E57C2", "fontSize": 13, "align": "left", "baseline": "middle"},
  "encoding": {"x": {"datum": {"year": 2024, "month": 10, "date": 4, "hours": 10, "utc": true}, "type": "temporal"},
   "y": {"datum": 80.4, "type": "quantitative"}, "text": {"value": "33.99"}}},
 {"data": {"values": [{}]}, "mark": {"type": "text", "color": "#F9CB40", "fontSize": 13, "align": "left", "baseline": "middle"},
  "encoding": {"x": {"datum": {"year": 2024, "month": 10, "date": 16, "hours": 23, "utc": true}, "type": "temporal"},
   "y": {"datum": 80.4, "type": "quantitative"}, "text": {"value": "36.63"}}},
 {"data": {"values": [{}]}, "mark": {"type": "text", "color": "#131722", "fontSize": 12, "align": "left", "baseline": "middle"},
  "encoding": {"x": {"datum": {"year": 2024, "month": 10, "date": 30, "hours": 5, "utc": true}, "type": "temporal"},
   "y": {"datum": 80.4, "type": "quantitative"}, "text": {"value": "∅"}}},
 {"data": {"values": [{}]}, "mark": {"type": "text", "color": "#131722", "fontSize": 12, "align": "left", "baseline": "middle"},
  "encoding": {"x": {"datum": {"year": 2024, "month": 11, "date": 4, "hours": 2, "utc": true}, "type": "temporal"},
   "y": {"datum": 80.4, "type": "quantitative"}, "text": {"value": "∅"}}},
 {"data": {"values": [{}]}, "mark": {"type": "rect", "color": "#FDD835"},
  "encoding": {"x": {"datum": {"year": 2025, "month": 4, "date": 29, "hours": 10, "utc": true}, "type": "temporal"},
   "x2": {"datum": {"year": 2025, "month": 5, "date": 15, "hours": 0, "utc": true}},
   "y": {"datum": 51.6, "type": "quantitative"}, "y2": {"datum": 41.5}}},
 {"data": {"values": [{}]}, "mark": {"type": "text", "color": "#131722", "fontSize": 13, "align": "center", "baseline": "middle"},
  "encoding": {"x": {"datum": {"year": 2025, "month": 5, "date": 7, "hours": 5, "utc": true}, "type": "temporal"},
   "y": {"datum": 46.5, "type": "quantitative"}, "text": {"value": "36.63"}}},
 {"data": {"values": [{}]}, "mark": {"type": "rect", "color": "#7E57C2"},
  "encoding": {"x": {"datum": {"year": 2025, "month": 4, "date": 29, "hours": 10, "utc": true}, "type": "temporal"},
   "x2": {"datum": {"year": 2025, "month": 5, "date": 15, "hours": 0, "utc": true}},
   "y": {"datum": 40.7, "type": "quantitative"}, "y2": {"datum": 29.6}}},
 {"data": {"values": [{}]}, "mark": {"type": "text", "color": "#ffffff", "fontSize": 13, "align": "center", "baseline": "middle"},
  "encoding": {"x": {"datum": {"year": 2025, "month": 5, "date": 7, "hours": 5, "utc": true}, "type": "temporal"},
   "y": {"datum": 35.2, "type": "quantitative"}, "text": {"value": "33.99"}}}
]}
]
}
]
}
